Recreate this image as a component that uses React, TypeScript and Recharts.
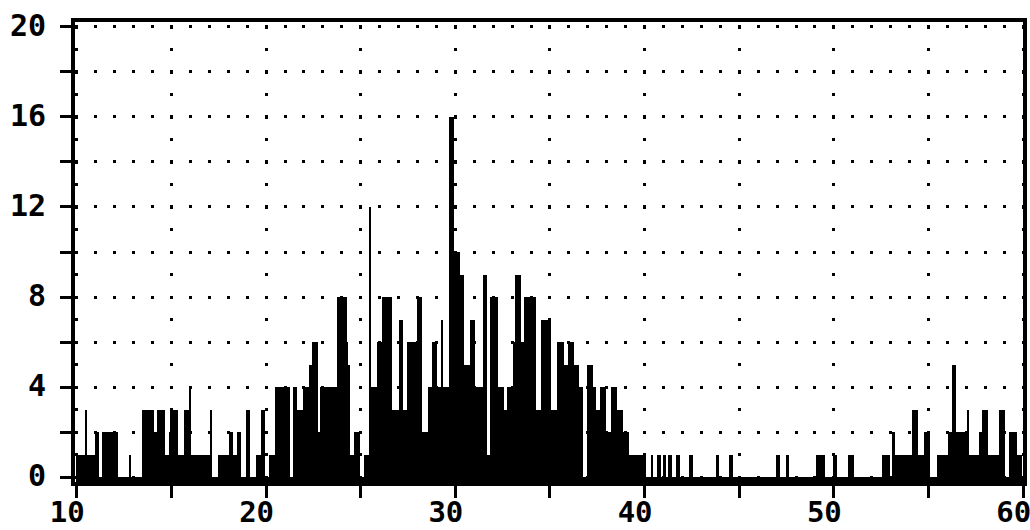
import { BarChart, Bar, XAxis, YAxis, CartesianGrid, ReferenceArea } from "recharts";

// counts per 0.1-wide bin, one array per 5 units of x
const seg10 = [
  1, 1, 1, 1, 1, 3, 1, 1, 1, 1,
  2, 2, 0, 0, 2, 2, 2, 2, 2, 2,
  2, 2, 0, 0, 0, 0, 0, 0, 1, 0,
  0, 0, 0, 0, 0, 3, 3, 3, 3, 3,
  3, 2, 2, 3, 3, 3, 3, 1, 1, 2,
];
const seg15 = [
  3, 3, 3, 3, 1, 1, 1, 3, 3, 3,
  4, 1, 1, 1, 1, 1, 1, 1, 1, 1,
  1, 3, 0, 0, 0, 1, 1, 1, 1, 1,
  1, 2, 2, 1, 1, 2, 2, 0, 0, 0,
  3, 3, 0, 0, 0, 1, 1, 1, 3, 3,
];
const seg20 = [
  0, 0, 1, 1, 1, 4, 4, 4, 4, 4,
  4, 4, 4, 0, 0, 4, 4, 3, 3, 3,
  4, 4, 4, 5, 5, 6, 6, 6, 2, 4,
  4, 4, 4, 4, 4, 4, 4, 4, 8, 8,
  8, 8, 8, 6, 5, 1, 1, 2, 2, 2,
];
const seg25 = [
  0, 0, 1, 1, 1, 12, 4, 4, 4, 6,
  6, 6, 8, 8, 8, 8, 8, 3, 3, 3,
  3, 7, 7, 3, 3, 6, 6, 6, 6, 6,
  8, 8, 8, 2, 2, 2, 4, 4, 6, 6,
  6, 4, 4, 7, 4, 4, 4, 16, 16, 16,
];
const seg30 = [
  10, 10, 10, 9, 9, 5, 5, 5, 7, 7,
  7, 4, 4, 4, 4, 9, 9, 1, 1, 8,
  8, 8, 8, 4, 4, 4, 3, 3, 4, 4,
  4, 6, 9, 9, 9, 6, 6, 8, 8, 8,
  8, 8, 8, 3, 3, 3, 7, 7, 7, 7,
];
const seg35 = [
  7, 3, 3, 3, 6, 6, 6, 6, 5, 5,
  6, 6, 6, 5, 5, 5, 4, 4, 0, 0,
  5, 5, 5, 4, 4, 3, 3, 4, 4, 4,
  2, 2, 2, 4, 4, 4, 3, 3, 3, 2,
  2, 2, 1, 1, 1, 1, 1, 1, 1, 1,
];
const seg40 = [
  1, 0, 0, 0, 1, 0, 0, 1, 1, 0,
  1, 1, 0, 1, 1, 0, 0, 1, 1, 0,
  0, 0, 0, 0, 1, 1, 0, 0, 0, 0,
  0, 0, 0, 0, 0, 0, 0, 0, 1, 1,
  0, 0, 0, 0, 0, 1, 1, 0, 0, 0,
];
const seg45 = [
  0, 0, 0, 0, 0, 0, 0, 0, 0, 0,
  0, 0, 0, 0, 0, 0, 0, 0, 0, 0,
  1, 1, 0, 0, 0, 1, 1, 0, 0, 0,
  0, 0, 0, 0, 0, 0, 0, 0, 0, 0,
  0, 1, 1, 1, 1, 1, 0, 0, 0, 0,
];
const seg50 = [
  1, 1, 0, 0, 0, 0, 0, 0, 1, 1,
  1, 0, 0, 0, 0, 0, 0, 0, 0, 0,
  0, 0, 0, 0, 0, 0, 1, 1, 1, 1,
  0, 2, 2, 1, 1, 1, 1, 1, 1, 1,
  1, 1, 3, 3, 3, 1, 1, 1, 2, 2,
];
const seg55 = [
  2, 0, 0, 0, 0, 1, 1, 1, 1, 1,
  1, 2, 2, 5, 5, 2, 2, 2, 2, 2,
  2, 3, 1, 1, 1, 1, 1, 2, 2, 3,
  3, 3, 1, 1, 1, 1, 1, 1, 3, 3,
  3, 0, 0, 2, 2, 2, 2, 1, 1, 1,
];
const seg60 = [0];

const X_START = 10;
const BIN = 0.1;
const X_TICKS = [10, 15, 20, 25, 30, 35, 40, 45, 50, 55, 60];
const X_LABELS = [10, 20, 30, 40, 50, 60];
const Y_TICKS = [0, 2, 4, 6, 8, 10, 12, 14, 16, 18, 20];
const Y_LABELS = [0, 4, 8, 12, 16, 20];

const X_DOMAIN: [number, number] = [9.8, 60.1];
const Y_DOMAIN: [number, number] = [-0.31, 20.31];

const counts = [
  ...seg10, ...seg15, ...seg20, ...seg25, ...seg30,
  ...seg35, ...seg40, ...seg45, ...seg50, ...seg55, ...seg60,
];
const data = counts.map((n, i) => ({ x: +(X_START + i * BIN).toFixed(1), n }));

const FONT = "'DejaVu Sans Mono', 'Liberation Mono', monospace";

const XTick = ({ x, y, payload }: any) =>
  X_LABELS.includes(payload.value) ? (
    <text x={x + 8} y={y + 24} textAnchor="end" fontFamily={FONT} fontWeight="bold" fontSize={29} fill="#000">
      {payload.value}
    </text>
  ) : (
    <g />
  );

const YTick = ({ x, y, payload }: any) =>
  Y_LABELS.includes(payload.value) ? (
    <text x={x - 14} y={y + 9} textAnchor="end" fontFamily={FONT} fontWeight="bold" fontSize={30} fill="#000">
      {payload.value}
    </text>
  ) : (
    <g />
  );

export default function App() {
  return (
    <div style={{ position: "absolute", left: 0, top: 0, width: 1030, height: 530, background: "#fff", shapeRendering: "crispEdges" }}>
      <BarChart
        width={1030}
        height={530}
        data={data}
        margin={{ top: 20, right: 5, bottom: 0, left: 0 }}
        barCategoryGap={0}
        barGap={0}
      >
        <CartesianGrid vertical={false} stroke="#000" strokeWidth={3} strokeDasharray="3 15.926" strokeDashoffset={16.6} />
        <CartesianGrid horizontal={false} stroke="#000" strokeWidth={3} strokeDasharray="3 19.5" strokeDashoffset={17} />
        <XAxis
          type="number"
          dataKey="x"
          domain={X_DOMAIN}
          ticks={X_TICKS}
          interval={0}
          height={46}
          tickSize={14}
          tickMargin={0}
          axisLine={false}
          tickLine={{ stroke: "#000", strokeWidth: 3 }}
          tick={<XTick />}
        />
        <YAxis
          type="number"
          domain={Y_DOMAIN}
          ticks={Y_TICKS}
          interval={0}
          width={73}
          tickSize={13}
          tickMargin={0}
          axisLine={false}
          tickLine={{ stroke: "#000", strokeWidth: 3 }}
          tick={<YTick />}
          allowDataOverflow
        />
        <Bar dataKey={(d: any) => [Y_DOMAIN[0], d.n]} fill="#000" isAnimationActive={false} />
        <ReferenceArea
          x1={X_DOMAIN[0]}
          x2={X_DOMAIN[1]}
          y1={Y_DOMAIN[0]}
          y2={Y_DOMAIN[1]}
          fill="none"
          stroke="#000"
          strokeWidth={3.5}
          ifOverflow="visible"
        />
      </BarChart>
    </div>
  );
}
